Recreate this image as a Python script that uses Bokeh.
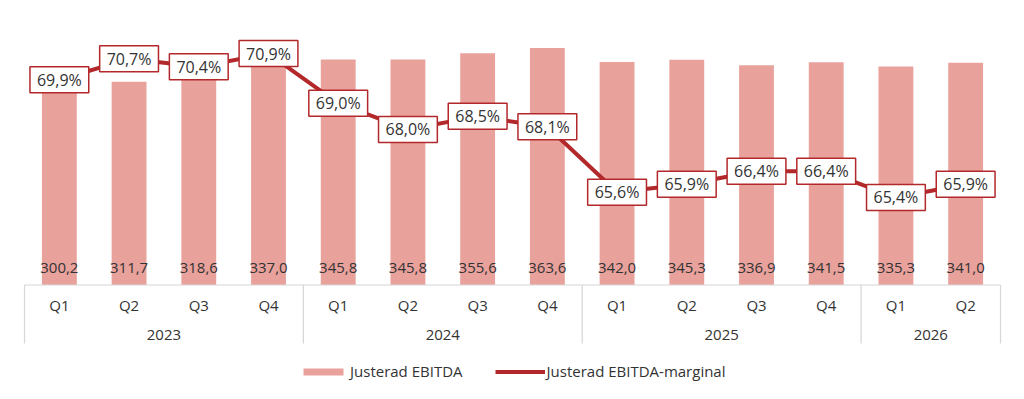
from bokeh.plotting import figure
from bokeh.models import FactorRange, Range1d, ColumnDataSource
from bokeh.core.properties import value
from bokeh.embed import file_html
from bokeh.resources import INLINE

# --- data -------------------------------------------------------------------
years = ["2023", "2024", "2025", "2026"]
quarters = [["Q1", "Q2", "Q3", "Q4"],
            ["Q1", "Q2", "Q3", "Q4"],
            ["Q1", "Q2", "Q3", "Q4"],
            ["Q1", "Q2"]]
ebitda = [300.2, 311.7, 318.6, 337.0, 345.8, 345.8, 355.6, 363.6,
          342.0, 345.3, 336.9, 341.5, 335.3, 341.0]
ebitda_margin = [69.9, 70.7, 70.4, 70.9, 69.0, 68.0, 68.5, 68.1,
                 65.6, 65.9, 66.4, 66.4, 65.4, 65.9]

# --- styling ----------------------------------------------------------------
W, H = 1024, 399
FONT = "Open Sans"
TEXT = "#333333"
BAR = "#E9A19C"
LINE = "#B3282B"
GRID = "#D6D6D6"

BASE_PX = 284.5          # pixel row of the zero line
AXIS_BOTTOM_PX = 343     # lower end of the year separators
PX_PER_MSEK = 0.652      # vertical scale of the bars
PCT_TOP = 72.93          # margin value at the top edge of the plot
PX_PER_PCT = 26.15       # vertical scale of the margin line


def sv(v, suffix=""):
    return f"{v:.1f}".replace(".", ",") + suffix


factors = [(y, q) for y, qs in zip(years, quarters) for q in qs]
n = len(factors)
side = 24 / (976 / n)    # 24 px of white space on each side, in category units

x_range = FactorRange(*factors, factor_padding=0, group_padding=0,
                      subgroup_padding=0, range_padding=2 * side / n)

p = figure(width=W, height=H, x_range=x_range,
           y_range=Range1d(-(H - BASE_PX) / PX_PER_MSEK, BASE_PX / PX_PER_MSEK),
           x_axis_location=None, y_axis_location=None,
           toolbar_location=None, output_backend="svg",
           min_border=0, outline_line_color=None)
p.extra_y_ranges = {
    "pct": Range1d(PCT_TOP - H / PX_PER_PCT, PCT_TOP),
    "px": Range1d(H, 0),
}

src = ColumnDataSource(dict(
    x=factors,
    ebitda=ebitda,
    ebitda_lbl=[sv(v) for v in ebitda],
    margin=ebitda_margin,
    margin_lbl=[sv(v, "%") for v in ebitda_margin],
))

# bars
p.vbar(x="x", top="ebitda", width=0.5, source=src, fill_color=BAR,
       line_color=None, legend_label="Justerad EBITDA")

# category axis frame: top rule and year separators
bounds = [0]
for qs in quarters:
    bounds.append(bounds[-1] + len(qs))
p.segment(x0=[bounds[0]], x1=[bounds[-1]], y0=[BASE_PX], y1=[BASE_PX],
          y_range_name="px", line_color=GRID, line_width=1.2)
p.segment(x0=bounds, x1=bounds, y0=[BASE_PX] * len(bounds),
          y1=[AXIS_BOTTOM_PX] * len(bounds),
          y_range_name="px", line_color=GRID, line_width=1.2)

# bar values near the bottom of each bar
p.text(x="x", y=267, text="ebitda_lbl", source=src, y_range_name="px",
       text_align="center", text_baseline="middle",
       text_font=value(FONT), text_font_size="15px", text_color=TEXT)

# quarter and year labels
p.text(x=factors, y=[304] * n, text=[q for _, q in factors], y_range_name="px",
       text_align="center", text_baseline="middle",
       text_font=value(FONT), text_font_size="15px", text_color=TEXT)
year_centers = [(a + b) / 2 for a, b in zip(bounds[:-1], bounds[1:])]
p.text(x=year_centers, y=[334] * len(years), text=years, y_range_name="px",
       text_align="center", text_baseline="middle",
       text_font=value(FONT), text_font_size="15px", text_color=TEXT)

# margin line with boxed labels
p.line(x="x", y="margin", source=src, y_range_name="pct", line_color=LINE,
       line_width=4, legend_label="Justerad EBITDA-marginal")
p.text(x="x", y="margin", text="margin_lbl", source=src, y_range_name="pct",
       text_align="center", text_baseline="middle",
       text_font=value(FONT), text_font_size="16px", text_color=TEXT,
       background_fill_color="white", border_line_color=LINE,
       border_line_width=1.5, padding=(7, 2))

p.xgrid.visible = False
p.ygrid.visible = False

lg = p.legend[0]
lg.orientation = "horizontal"
lg.location = (303 - 5, 18)
lg.padding = 0
lg.margin = 0
lg.spacing = 32
lg.glyph_width = 50
lg.glyph_height = 9
lg.label_standoff = 2
lg.border_line_color = None
lg.background_fill_alpha = 0
lg.label_text_font = FONT
lg.label_text_font_size = "15px"
lg.label_text_color = TEXT

open("out.html", "w").write(file_html(p, INLINE))
